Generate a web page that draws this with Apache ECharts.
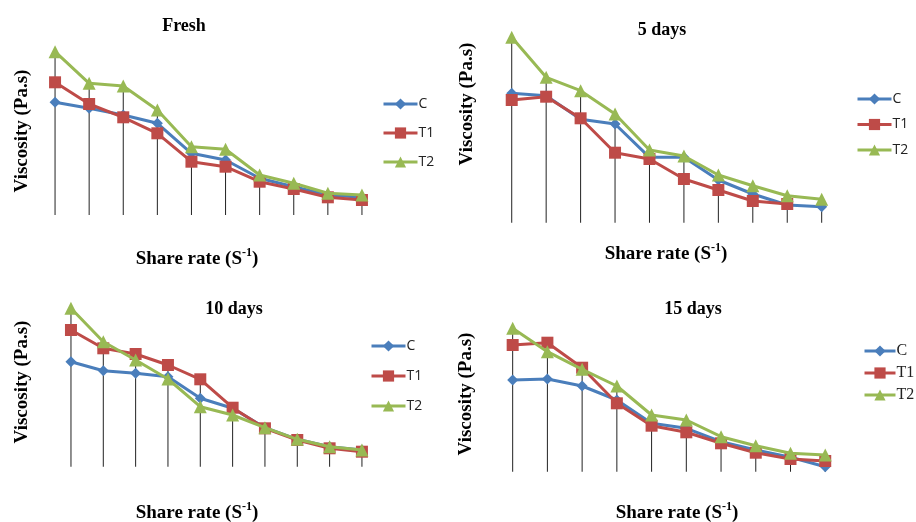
<!DOCTYPE html>
<html>
<head>
<meta charset="utf-8">
<script src="https://cdn.jsdelivr.net/npm/echarts@6/dist/echarts.min.js"></script>
<style>
html, body { margin: 0; padding: 0; background: #fff; }
#main { width: 916px; height: 522px; }
</style>
</head>
<body>
<div id="main"></div>
<script>
// share rate points (no tick values shown on the original)
var categories = ['1', '2', '3', '4', '5', '6', '7', '8', '9', '10'];
var seriesNames = ['C', 'T1', 'T2'];
var panelTitles = ['Fresh', '5 days', '10 days', '15 days'];

// viscosity, relative units
var freshC  = [112.7, 106.7, 100, 91.7, 61.7, 55, 36.7, 28.3, 20, 17.7];
var freshT1 = [132.7, 111, 97.7, 81.7, 53.3, 48.3, 33.3, 26, 17.7, 15];
var freshT2 = [163.3, 131.7, 129, 105, 68.3, 65.7, 40, 31.7, 21.7, 20];

var day5C  = [129.4, 127, 103.4, 98.7, 65.4, 65.4, 42.7, 28.7, 17.7, 16];
var day5T1 = [122.7, 126, 104.4, 70, 63.7, 43.7, 32.7, 21.7, 18.7, null];
var day5T2 = [185.4, 145.4, 132, 108.7, 72.7, 66.7, 47.7, 37, 27, 23.4];

var day10C  = [105, 96, 93.4, 90, 68.4, 58.4, 39, 27.4, 20, 16.7];
var day10T1 = [136.7, 118.4, 112.7, 101.7, 87.4, 59, 38.4, 26.7, 18.4, 15];
var day10T2 = [158.4, 125, 106.7, 87.7, 60, 51.7, 39, 27.4, 20, 16.7];

var day15C  = [91.7, 92.7, 85.7, 71.7, 48.4, 43.4, 30, 21.7, 14.4, 5];
var day15T1 = [126.7, 129, 104, 68.4, 46, 39.4, 28.4, 19, 12.7, 10.7];
var day15T2 = [143.4, 120, 102.4, 85.7, 56.7, 51.7, 35, 26, 18.4, 16.7];

var panelData = [
	[freshC, freshT1, freshT2],
	[day5C, day5T1, day5T2],
	[day10C, day10T1, day10T2],
	[day15C, day15T1, day15T2]
];

var chart = echarts.init(document.getElementById('main'));

var colors = ['#4a7ebb', '#be4b48', '#98b954'];
var symbols = ['diamond', 'rect', 'triangle'];
var symbolSizes = [11, 12, 13];
var serif = '"Liberation Serif", "Times New Roman", serif';

var grids = [
	{ left: 38, top: 25, width: 341, height: 190 },
	{ left: 494.5, top: 32.7, width: 344.4, height: 190 },
	{ left: 54.8, top: 276.7, width: 323.3, height: 190 },
	{ left: 495.3, top: 281.7, width: 347.3, height: 190 }
];

// legend placement per panel
var legends = [
	{ left: 377, top: 92, itemGap: 15, itemWidth: 34, font: 'Open Sans', size: 14 },
	{ left: 851, top: 87, itemGap: 11.5, itemWidth: 34, font: 'Open Sans', size: 14 },
	{ left: 365, top: 334, itemGap: 16, itemWidth: 34, font: 'Open Sans', size: 14 },
	{ left: 858, top: 338, itemGap: 6, itemWidth: 31, font: serif, size: 16 }
];

// text positions: [title x, title y], [y label x, y label y], [x label x, x label y]
var titlePos = [[184, 26], [662, 30], [234, 309], [693, 309]];
var yLabelPos = [[22, 131], [467, 104], [22, 382], [466, 394]];
var xLabelPos = [[197, 258], [666, 253], [197, 512], [677, 512]];

var xAxes = [], yAxes = [], series = [], legendList = [], graphics = [];

for (var p = 0; p < 4; p++) {
	xAxes.push({
		gridIndex: p,
		type: 'category',
		data: categories,
		boundaryGap: true,
		axisLine: { show: false },
		axisTick: { show: false },
		axisLabel: { show: false },
		splitLine: { show: false }
	});
	yAxes.push({
		gridIndex: p,
		type: 'value',
		min: 0,
		max: 190,
		axisLine: { show: false },
		axisTick: { show: false },
		axisLabel: { show: false },
		splitLine: { show: false }
	});

	// drop lines: from the highest point of each category to the axis
	var tops = [];
	for (var i = 0; i < categories.length; i++) {
		var m = 0;
		for (var s = 0; s < 3; s++) {
			var v = panelData[p][s][i];
			if (v != null && v > m) m = v;
		}
		tops.push(m);
	}
	series.push({
		name: 'drop' + p,
		type: 'bar',
		xAxisIndex: p,
		yAxisIndex: p,
		barWidth: 1,
		z: 1,
		silent: true,
		itemStyle: { color: '#222' },
		data: tops
	});

	for (var s = 0; s < 3; s++) {
		series.push({
			name: seriesNames[s],
			type: 'line',
			xAxisIndex: p,
			yAxisIndex: p,
			z: 3 + s,
			symbol: symbols[s],
			symbolSize: symbolSizes[s],
			showAllSymbol: true,
			connectNulls: false,
			lineStyle: { width: 3, color: colors[s] },
			itemStyle: { color: colors[s] },
			data: panelData[p][s]
		});
	}

	legendList.push({
		data: seriesNames,
		orient: 'vertical',
		left: legends[p].left,
		top: legends[p].top,
		itemWidth: legends[p].itemWidth,
		itemHeight: 14,
		itemGap: legends[p].itemGap,
		lineStyle: { width: 3 },
		textStyle: { fontFamily: legends[p].font, fontSize: legends[p].size, color: '#222', padding: [0, 0, 0, -4] }
	});

	graphics.push({
		type: 'text',
		x: titlePos[p][0],
		y: titlePos[p][1],
		style: { text: panelTitles[p], font: 'bold 18px ' + serif, fill: '#000', align: 'center', verticalAlign: 'middle' }
	});
	graphics.push({
		type: 'text',
		x: yLabelPos[p][0],
		y: yLabelPos[p][1],
		rotation: Math.PI / 2,
		style: { text: 'Viscosity (Pa.s)', font: 'bold 19px ' + serif, fill: '#000', align: 'center', verticalAlign: 'middle' }
	});
	graphics.push({
		type: 'text',
		x: xLabelPos[p][0],
		y: xLabelPos[p][1],
		style: {
			text: '{a|Share rate (S}{s|-1}{a|)}',
			align: 'center',
			verticalAlign: 'middle',
			rich: {
				a: { font: 'bold 19px ' + serif, fill: '#000', lineHeight: 22, verticalAlign: 'bottom' },
				s: { font: 'bold 12px ' + serif, fill: '#000', verticalAlign: 'top', lineHeight: 22, padding: [0, 0, 8, 0] }
			}
		}
	});
}

var option = {
	animation: false,
	backgroundColor: '#fff',
	grid: grids,
	xAxis: xAxes,
	yAxis: yAxes,
	legend: legendList,
	series: series,
	graphic: graphics
};

chart.setOption(option);
</script>
</body>
</html>
